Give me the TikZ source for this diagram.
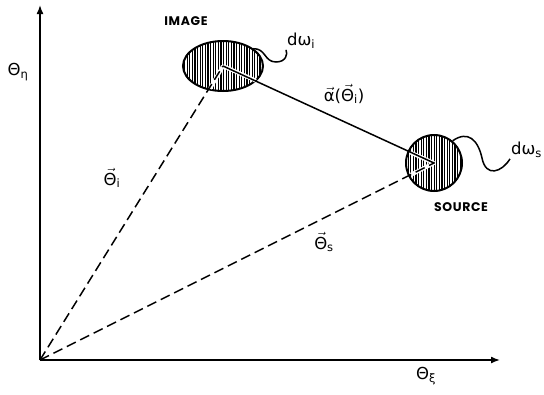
\documentclass[tikz,border=0pt]{standalone}
\usepackage{fontspec}
\setmainfont{DejaVu Sans}
\newfontfamily\capsfont[LetterSpace=5]{Poppins}
\usetikzlibrary{shapes.geometric, arrows.meta, patterns.meta}
\newcommand{\vecarr}[1]{$\vec{\mbox{#1}}$}
\tikzset{
    axis/.style={line width=1.5pt, -{Latex[length=9pt,width=7pt]}},
    ray/.style={line width=1.5pt, dash pattern=on 10pt off 5pt},
    halo/.style={white, line width=4pt},
    spot/.style={draw, line width=2pt, inner sep=0pt,
        pattern={Lines[angle=90, distance=2.6pt, line width=1.2pt]}},
    tag/.style={font=\capsfont\bfseries\fontsize{12.5}{14}\selectfont},
    lbl/.style={font=\fontsize{16.5}{18}\selectfont, inner sep=1pt},
    wiggle/.style={line width=1.5pt}
}

\begin{document}
\begin{tikzpicture}[x=1pt, y=-1pt]
    \useasboundingbox (0,0) rectangle (544,394);

    % axes
    \coordinate (O) at (40,360);
    \coordinate (xend) at (500,360);
    \coordinate (yend) at (40,5);
    \draw[axis] (O) -- (xend);
    \draw[axis] (O) -- (yend);
    \node[lbl] (theta eta) at (18,72) {Θ\textsubscript{η}};
    \node[lbl] (theta xi) at (426,376) {Θ\textsubscript{ξ}};

    % image and source
    \node[spot, ellipse, minimum width=80pt, minimum height=50pt] (img) at (223,66) {};
    \node[spot, circle, minimum size=56pt] (src) at (434,163) {};
    \draw[halo] (img.center) -- +(240:26pt);
    \draw[halo] (img.center) -- +(-24:36pt);
    \draw[halo] (src.center) -- +(156:26pt);
    \draw[halo] (src.center) -- +(207:26pt);
    \node[tag] (image) at (186,21) {IMAGE};
    \node[tag] (source) at (461,207) {SOURCE};

    % rays
    \draw[ray] (O) -- (img.center);
    \draw[ray] (O) -- (src.center);
    \draw[line width=1.5pt] (img.center) -- (src.center);
    \node[lbl] (theta i) at (112,178) {\vecarr{Θ}\textsubscript{i}};
    \node[lbl] (theta s) at (324,242) {\vecarr{Θ}\textsubscript{s}};
    \node[lbl] (alpha) at (344,94) {\vecarr{α}(\vecarr{Θ}\textsubscript{i})};

    % solid angles
    \node[lbl, anchor=west] (dwi) at (286,41) {dω\textsubscript{i}};
    \node[lbl, anchor=west] (dws) at (510,150) {dω\textsubscript{s}};
    \draw[wiggle] (img.30) .. controls (266,48) and (264,62) .. (276,62)
        .. controls (286,62) and (288,54) .. (dwi.south west);
    \draw[wiggle] (src.50) .. controls (468,130) and (478,140) .. (482,158)
        .. controls (486,178) and (502,172) .. (dws.south west);
\end{tikzpicture}
\end{document}
